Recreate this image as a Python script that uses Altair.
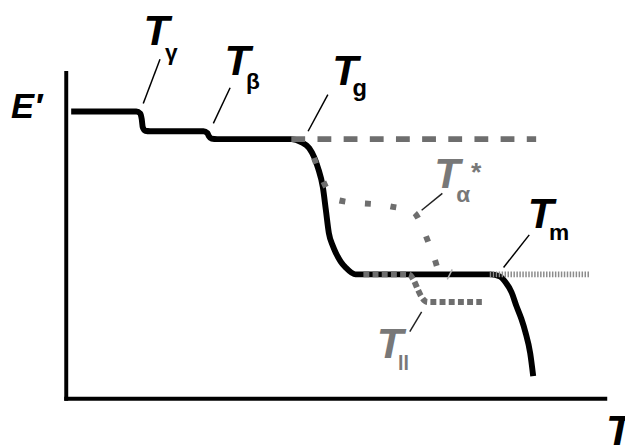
import altair as alt
import pandas as pd

# ---- data (T in arbitrary temperature units, E in arbitrary modulus units) ----
main_T = [5, 71, 75, 76.5, 77.5, 80, 85, 139, 143, 144.5, 147, 153,
          228, 238, 246, 251, 255, 260, 263, 266, 270, 273, 278, 283, 293, 303,
          430, 439, 445, 451, 456, 461, 465, 470, 473]
main_E = [291, 291, 289, 283, 275, 271.5, 271, 271, 269, 266, 263.5, 263,
          263, 260, 254, 245, 234, 214, 191, 168, 155, 148, 139, 133, 126, 126,
          126, 124, 118, 108, 94, 81, 68, 46, 23]

glass_T = [228, 476]
glass_E = [263, 263]

alpha_T = [251, 255, 260, 266, 276, 328, 352, 361, 367, 373, 377]
alpha_E = [244, 233, 221, 209, 201, 195, 189, 173, 158, 142, 129]

ll_T = [301, 347, 352, 356, 360, 366, 421]
ll_E = [126, 126, 120, 111, 103, 98, 98]

melt_T = [429, 530]
melt_E = [126, 126]

# axis lines
axis_T1 = [0, 0]
axis_T2 = [0, 546]
axis_E1 = [0, 0]
axis_E2 = [330, 0]

# leader lines
lead_T1 = [95, 166, 265, 381, 469, 360, 386]
lead_E1 = [344, 315, 308, 208, 166, 88, 121]
lead_T2 = [78, 149, 245, 360, 443, 348, 391]
lead_E2 = [299, 279, 271, 191, 133, 68, 131]
lead_col = ["#000000", "#000000", "#000000", "#222222", "#000000", "#222222", "#b0b0b0"]

# big italic labels
big_text = ["T", "T", "T", "T", "T", "T", "T", "E′"]
big_T = [91.5, 173.5, 282.5, 386, 480.5, 328, 560, -56]
big_E = [358, 328, 318, 213, 173, 41, -47, 284]
big_size = [43, 43, 43, 43, 43, 44, 43, 35]
big_col = ["#000000", "#000000", "#000000", "#787878", "#000000", "#787878", "#000000", "#000000"]
big_align = ["center"] * 7 + ["left"]

# subscripts
sub_text = ["γ", "β", "g", "α", "*", "m", "ll"]
sub_T = [100, 182, 290, 395, 410, 489, 336]
sub_E = [343, 314, 307, 199, 221, 161, 29]
sub_size = [23, 23, 24, 23, 27, 23, 20]
sub_col = ["#000000", "#000000", "#000000", "#787878", "#787878", "#000000", "#787878"]

# ---- scales ----
xs = alt.Scale(domain=[-59, 566], nice=False, zero=False)
ys = alt.Scale(domain=[-45, 393], nice=False, zero=False)


def path_df(T, E):
    return pd.DataFrame({"T": T, "E": E, "i": list(range(len(T)))})


def line_layer(T, E, color, width, dash=None, interp="monotone", cap="butt"):
    kw = dict(color=color, strokeWidth=width, interpolate=interp, strokeCap=cap, strokeJoin="round")
    if dash is not None:
        kw["strokeDash"] = dash
    return alt.Chart(path_df(T, E)).mark_line(**kw).encode(
        x=alt.X("T:Q", scale=xs, axis=None),
        y=alt.Y("E:Q", scale=ys, axis=None),
        order="i:Q",
    )


axes = alt.Chart(pd.DataFrame({"T1": axis_T1, "T2": axis_T2, "E1": axis_E1, "E2": axis_E2})).mark_rule(
    color="black", strokeWidth=4, strokeCap="square"
).encode(
    x=alt.X("T1:Q", scale=xs, axis=None), x2="T2:Q",
    y=alt.Y("E1:Q", scale=ys, axis=None), y2="E2:Q",
)

main = line_layer(main_T, main_E, "black", 6, cap="butt")
glass = line_layer(glass_T, glass_E, "#6e6e6e", 6, dash=[14, 12.5], interp="linear")
alpha = line_layer(alpha_T, alpha_E, "#6e6e6e", 6, dash=[6, 20])
ll = line_layer(ll_T, ll_E, "#6e6e6e", 6, dash=[6, 3.3])
melt = line_layer(melt_T, melt_E, "#8c8c8c", 6, dash=[1.5, 1.5], interp="linear")

leaders = alt.Chart(pd.DataFrame({"T1": lead_T1, "E1": lead_E1, "T2": lead_T2, "E2": lead_E2,
                                  "c": lead_col})).mark_rule(strokeWidth=1.5).encode(
    x=alt.X("T1:Q", scale=xs, axis=None), x2="T2:Q",
    y=alt.Y("E1:Q", scale=ys, axis=None), y2="E2:Q",
    color=alt.Color("c:N", scale=None),
)

big_df = pd.DataFrame({"t": big_text, "T": big_T, "E": big_E, "s": big_size, "c": big_col, "a": big_align})
big_c = alt.Chart(big_df[big_df.a == "center"]).mark_text(
    font="Liberation Sans", fontWeight="bold", fontStyle="italic", align="center", baseline="alphabetic"
).encode(
    x=alt.X("T:Q", scale=xs, axis=None), y=alt.Y("E:Q", scale=ys, axis=None),
    text="t:N", size=alt.Size("s:Q", scale=None), color=alt.Color("c:N", scale=None),
)
big_l = alt.Chart(big_df[big_df.a == "left"]).mark_text(
    font="Liberation Sans", fontWeight="bold", fontStyle="italic", align="left", baseline="alphabetic"
).encode(
    x=alt.X("T:Q", scale=xs, axis=None), y=alt.Y("E:Q", scale=ys, axis=None),
    text="t:N", size=alt.Size("s:Q", scale=None), color=alt.Color("c:N", scale=None),
)

subs = alt.Chart(pd.DataFrame({"t": sub_text, "T": sub_T, "E": sub_E, "s": sub_size, "c": sub_col})).mark_text(
    font="Liberation Sans", fontWeight="bold", align="left", baseline="alphabetic"
).encode(
    x=alt.X("T:Q", scale=xs, axis=None), y=alt.Y("E:Q", scale=ys, axis=None),
    text="t:N", size=alt.Size("s:Q", scale=None), color=alt.Color("c:N", scale=None),
)

chart = alt.layer(
    axes, main, glass, alpha, ll, melt, leaders, big_c, big_l, subs
).properties(
    width=625, height=438, padding=0, background="white",
    autosize=alt.AutoSizeParams(type="none"),
).configure_view(strokeWidth=0)

chart.save("out.html", embed_options={"renderer": "svg", "actions": False})
